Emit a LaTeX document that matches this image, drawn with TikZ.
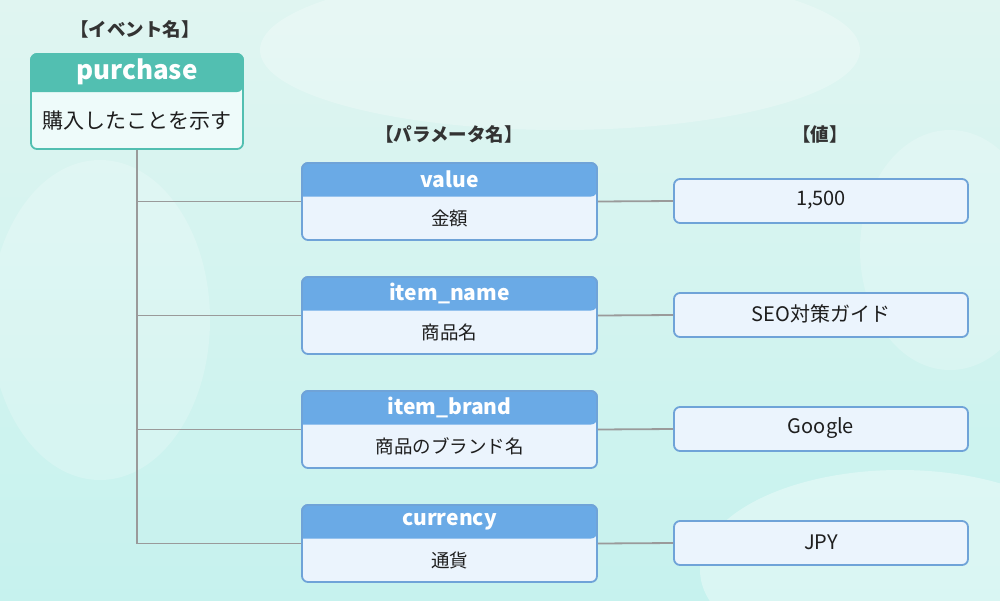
\documentclass[tikz,border=0pt]{standalone}
\usepackage{fontspec}
\setmainfont{Noto Sans CJK JP}
\usetikzlibrary{calc}
\definecolor{teal1}{HTML}{52BFB1}
\definecolor{tealbody}{HTML}{EEFBFA}
\definecolor{blue1}{HTML}{6AAAE6}
\definecolor{blueborder}{HTML}{6FA3D8}
\definecolor{bluebody}{HTML}{EBF4FD}
\definecolor{linegray}{HTML}{9A9A9A}
\definecolor{txt}{HTML}{1E1E1E}
\definecolor{bgA}{HTML}{E0F5F1}
\definecolor{bgB}{HTML}{C6F2EE}
\tikzset{
  box/.style={draw, line width=1.8pt, rounded corners=6pt, inner sep=0pt},
  evbox/.style={box, draw=teal1, fill=tealbody, minimum width=212pt, minimum height=95pt},
  parbox/.style={box, draw=blueborder, fill=bluebody, minimum width=295pt, minimum height=77pt},
  valbox/.style={box, draw=blueborder, fill=bluebody, minimum width=294pt, minimum height=44pt},
  hdrtxt/.style={text=white, font=\bfseries\fontsize{21}{23}\selectfont, inner sep=0pt},
  bodytxt/.style={text=txt, font=\fontsize{18.5}{20}\selectfont, inner sep=0pt},
  lbl/.style={text=black!80, font=\bfseries\fontsize{18.5}{20}\selectfont, inner sep=0pt},
  conn/.style={draw=linegray, line width=1.8pt},
}
\begin{document}
\begin{tikzpicture}[x=1pt,y=-1pt]
\useasboundingbox (0,0) rectangle (1000,600);
% background
\begin{scope}
\clip (0,0) rectangle (1000,600);
\shade[top color=bgA, bottom color=bgB] (0,0) rectangle (1000,600);
\fill[white, opacity=0.35] (900,570) ellipse (200 and 100);
\fill[white, opacity=0.25] (560,50) ellipse (300 and 80);
\fill[white, opacity=0.2] (100,320) ellipse (110 and 160);
\fill[white, opacity=0.2] (950,250) ellipse (90 and 120);
\end{scope}

% labels
\node[lbl] (levent) at (135,29) {【イベント名】};
\node[lbl] (lparam) at (449,134) {【パラメータ名】};
\node[lbl] (lval) at (820,134) {【値】};

% event box
\node[evbox] (ev) at (137,101.5) {};
\fill[teal1, rounded corners=6pt] (31,92) -- (31,54) -- (243,54) -- (243,92) [sharp corners] -- cycle;
\draw[teal1, line width=1.8pt, rounded corners=6pt] (31,92) |- (243,54) -- (243,92);
\node[hdrtxt, font=\bfseries\fontsize{26}{28}\selectfont] (evh) at (137,72) {purchase};
\node[bodytxt, font=\fontsize{21}{23}\selectfont] (evb) at (137,121) {購入したことを示す};

% parameter boxes
\foreach \i/\y/\name/\desc in {1/201.5/value/金額, 2/315.5/item\_name/商品名, 3/429.5/item\_brand/商品のブランド名, 4/543.5/currency/通貨}{
  \node[parbox] (p\i) at (449.5,\y) {};
  \fill[blue1, rounded corners=6pt] (302,\y-5) -- (302,\y-38.5) -- (597,\y-38.5) -- (597,\y-5) [sharp corners] -- cycle;
  \draw[blueborder, line width=1.8pt, rounded corners=6pt] (302,\y-5) |- (597,\y-38.5) -- (597,\y-5);
  \node[hdrtxt] (ph\i) at (449.5,\y-22) {\name};
  \node[bodytxt] (pd\i) at (449.5,\y+17) {\desc};
}

% value boxes
\foreach \i/\y/\v in {1/201/{1,500}, 2/315/SEO対策ガイド, 3/429/Google, 4/543/JPY}{
  \node[valbox] (v\i) at (821,\y) {};
  \node[bodytxt, font=\fontsize{20}{22}\selectfont] (vt\i) at (821,\y-1) {\v};
}

% connectors
\draw[conn] (ev.south) |- (p4.west);
\draw[conn] (ev.south |- p1.west) -- (p1.west);
\draw[conn] (ev.south |- p2.west) -- (p2.west);
\draw[conn] (ev.south |- p3.west) -- (p3.west);
\foreach \i in {1,2,3,4}{
  \draw[conn] (p\i.east) -- (v\i.west);
}
\end{tikzpicture}
\end{document}
